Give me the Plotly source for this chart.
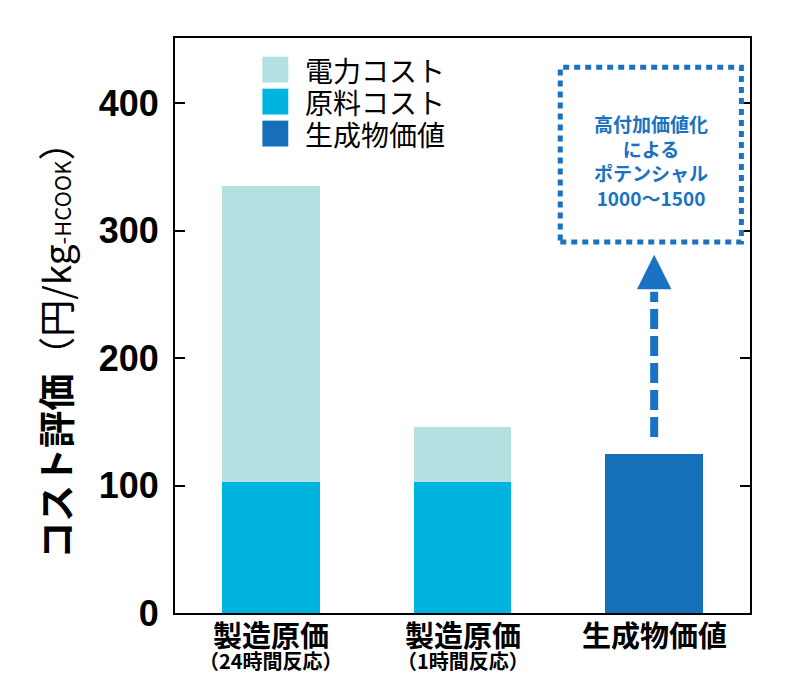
import plotly.graph_objects as go

# categories (x axis)
categories = ["製造原価", "製造原価", "生成物価値"]
sub_labels = ["（24時間反応）", "（1時間反応）", ""]

# stacked values (円/kg-HCOOK)
raw_cost = [103, 103, None]
power_cost = [232, 43, None]
product_value = [None, None, 125]

y_ticks = [0, 100, 200, 300, 400]

legend_names = ["電力コスト", "原料コスト", "生成物価値"]
colors = {"電力コスト": "#b3e0e0", "原料コスト": "#00b4e0", "生成物価値": "#1570b9"}
blue = "#1a72c2"
jp = "Noto Sans CJK JP"

xs = [0, 1, 2]

fig = go.Figure()
fig.add_trace(go.Bar(x=xs, y=raw_cost, name="原料コスト",
                     marker=dict(color=colors["原料コスト"], line_width=0),
                     width=0.51, showlegend=False))
fig.add_trace(go.Bar(x=xs, y=power_cost, name="電力コスト",
                     marker=dict(color=colors["電力コスト"], line_width=0),
                     width=0.51, showlegend=False))
fig.add_trace(go.Bar(x=xs, y=product_value, name="生成物価値",
                     marker=dict(color=colors["生成物価値"], line_width=0),
                     width=0.51, showlegend=False))

# hand-made legend (big squares)
for i, name in enumerate(legend_names):
    yc = 0.945 - i * 0.0556
    fig.add_shape(type="rect", xref="paper", yref="paper",
                  x0=0.152, x1=0.197, y0=yc - 0.0225, y1=yc + 0.0225,
                  line_width=0, fillcolor=colors[name])
    fig.add_annotation(xref="paper", yref="paper", x=0.222, y=yc,
                       xanchor="left", yanchor="middle", showarrow=False,
                       text=name, font=dict(size=28, family=jp, color="black"))

# dashed arrow from the product bar up to the box
fig.add_trace(go.Scatter(x=[2, 2], y=[138, 252], mode="lines",
                         line=dict(color=blue, width=8, dash="20px,7px"),
                         showlegend=False, hoverinfo="skip"))
fig.add_annotation(x=2, y=281, ax=2, ay=262, xref="x", yref="y", axref="x", ayref="y",
                   text="", showarrow=True, arrowhead=2, arrowsize=1.15,
                   arrowwidth=6, arrowcolor=blue, standoff=0)

# dotted box with text
fig.add_shape(type="rect", x0=1.51, x1=2.455, y0=291, y1=428, xref="x", yref="y",
              line=dict(color=blue, width=5, dash="6px,5px"))
fig.add_annotation(x=1.985, y=355, xref="x", yref="y", showarrow=False,
                   text="<b>高付加価値化<br>による<br>ポテンシャル<br>1000～1500</b>",
                   font=dict(size=19, color=blue, family=jp))

# category labels
for x, c, s in zip(xs, categories, sub_labels):
    fig.add_annotation(x=x, y=-0.036, xref="x", yref="paper", yanchor="middle",
                       showarrow=False, text="<b>" + c + "</b>",
                       font=dict(size=29, family=jp, color="black"))
    if s:
        fig.add_annotation(x=x, y=-0.083, xref="x", yref="paper", yanchor="middle",
                           showarrow=False, text="<b>" + s + "</b>",
                           font=dict(size=20, family=jp, color="black"))

# y axis title
fig.add_annotation(xref="paper", yref="paper", x=-0.209, y=0.473, textangle=-90,
                   xanchor="center", yanchor="middle", showarrow=False,
                   text="<b>コスト評価</b>（円/kg<span style='font-size:22px'>-HCOOK</span>）",
                   font=dict(size=37, family=jp, color="black"))

fig.update_layout(
    width=796, height=666,
    margin=dict(l=167, r=54, t=30, b=61),
    paper_bgcolor="white", plot_bgcolor="white",
    barmode="stack",
    font=dict(family=jp, color="black"),
    xaxis=dict(range=[-0.5, 2.5], showticklabels=False, automargin=False,
               showline=True, linecolor="black", linewidth=2, mirror=True,
               ticks="", showgrid=False, zeroline=False),
    yaxis=dict(range=[0, 451], tickvals=y_ticks, automargin=False,
               showline=True, linecolor="black", linewidth=2, mirror="ticks",
               ticks="inside", ticklen=10, tickwidth=2, tickcolor="black",
               ticklabelstandoff=7,
               showgrid=False, zeroline=False,
               tickfont=dict(size=36, family="Liberation Sans", color="black", weight="bold")),
)

fig.write_html("out.html")
